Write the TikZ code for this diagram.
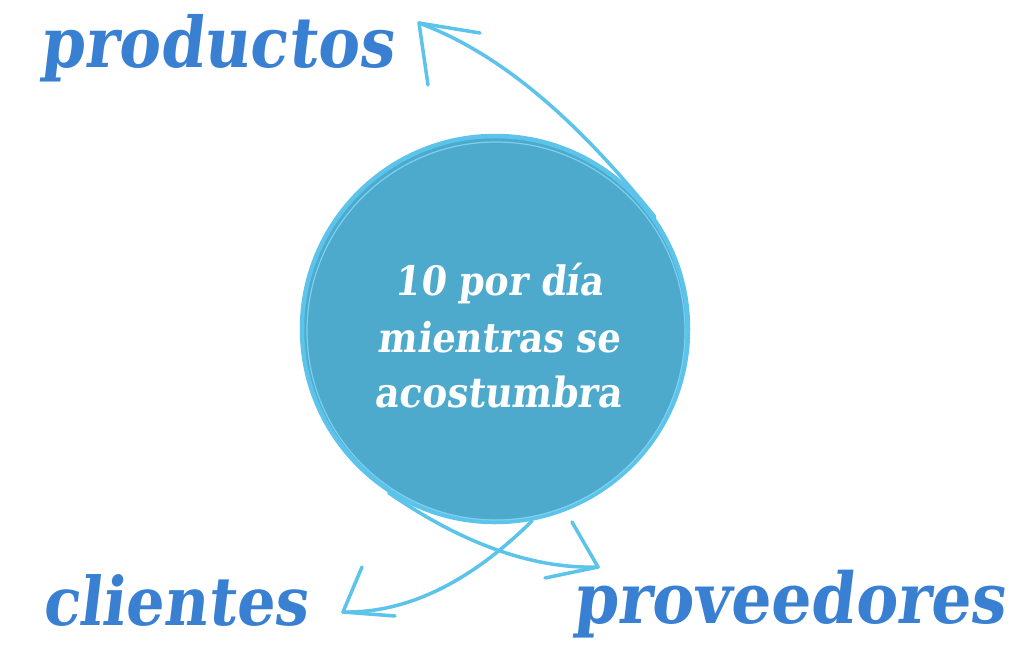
\documentclass[tikz,border=0pt]{standalone}
\usepackage{fontspec}
\usepackage{graphicx}
\newfontfamily\labfont{DejaVu Serif Condensed}[BoldFeatures={FakeSlant=0.12}]
\definecolor{lblue}{HTML}{5CC3EA}
\definecolor{cfill}{HTML}{4DAACD}
\definecolor{tblue}{HTML}{3A80D2}
\tikzset{
  arc/.style={draw=lblue, line width=3.5pt, line cap=round, line join=round},
  label/.style={anchor=base west, inner sep=0pt, text=tblue, font=\labfont\bfseries},
  ctext/.style={anchor=base, inner sep=0pt, text=white, font=\labfont\bfseries},
}
\begin{document}
\begin{tikzpicture}[x=1pt,y=-1pt]
\useasboundingbox (0,0) rectangle (1017,657);
\fill[white] (0,0) rectangle (1017,657);
% circle
\node[circle, minimum size=386pt, inner sep=0pt, fill=cfill, draw=lblue, line width=4.5pt] (c) at (495,329) {};
\draw[lblue!80, line width=1.2pt] (496,331) circle (189pt);
% center text
\node[ctext] (t1) at (499,295) {\resizebox{208pt}{!}{10 por día}};
\node[ctext] (t2) at (499,352) {\resizebox{242pt}{!}{mientras se}};
\node[ctext] (t3) at (498,407) {\resizebox{247pt}{!}{acostumbra}};
% labels
\node[label] (prod) at (40,67) {\resizebox{353pt}{!}{productos}};
\node[label] (cli) at (42,625) {\resizebox{265pt}{!}{clientes}};
\node[label] (prov) at (573,623) {\resizebox{432pt}{!}{proveedores}};
% arrow tips and barbs
\coordinate (tipA) at (419,23);
\coordinate (a1) at (428,85);
\coordinate (a2) at (480,33);
\coordinate (tipB) at (598,567);
\coordinate (b1) at (572,522);
\coordinate (b2) at (545,578);
\coordinate (tipC) at (343,612);
\coordinate (c1) at (362,567);
\coordinate (c2) at (395,616);
% arrows
\draw[arc] (c.35) .. controls (570.7,112.3) and (495.7,51.7) .. (tipA);
\draw[arc] (a1) -- (tipA) -- (a2);
\draw[arc] (c.-123) .. controls (463.3,544.3) and (533.7,569) .. (tipB);
\draw[arc] (b1) -- (tipB) -- (b2);
\draw[arc] (c.-79) .. controls (469.7,582.7) and (406.3,613.3) .. (tipC);
\draw[arc] (c1) -- (tipC) -- (c2);
\end{tikzpicture}
\end{document}
